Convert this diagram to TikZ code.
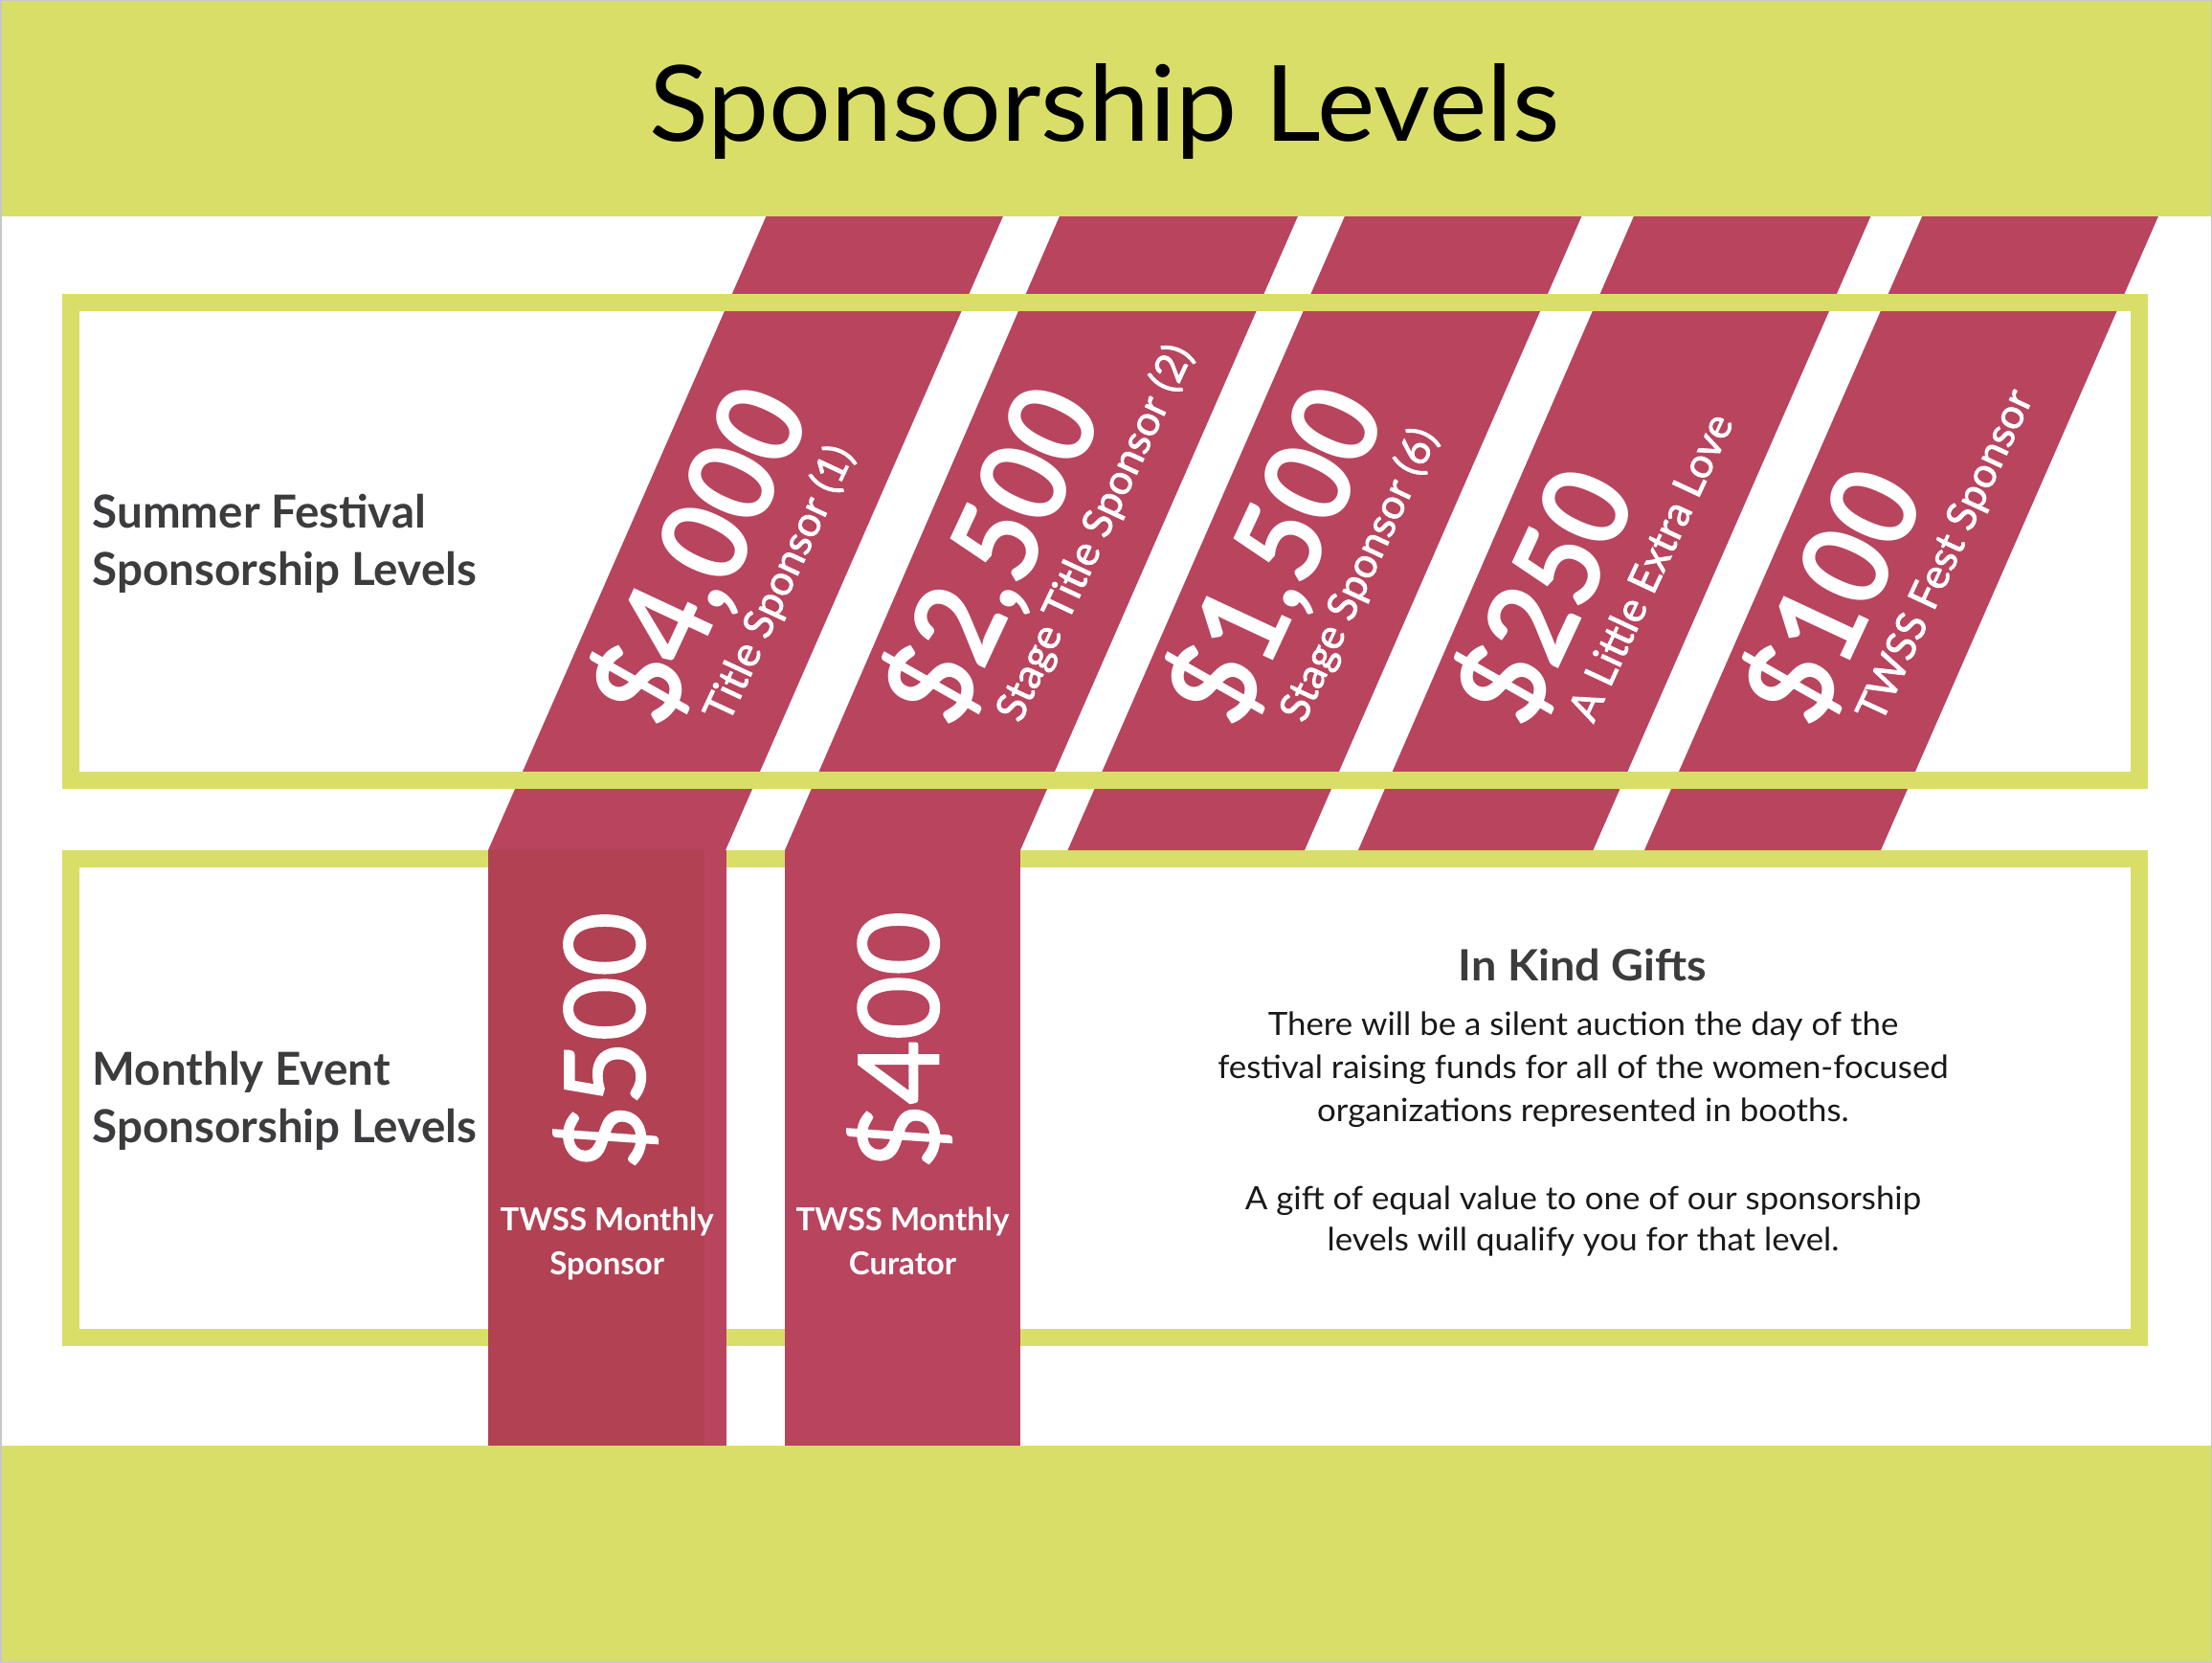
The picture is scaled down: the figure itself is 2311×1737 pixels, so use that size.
\documentclass[tikz,border=0pt]{standalone}
\usepackage{fontspec}
\setmainfont{Lato}
\newfontfamily\medfont{Lato}[FakeBold=1.8]
\newfontfamily\widefont{Lato}[FakeStretch=1.04]
\newfontfamily\pricefont{Lato}[FakeStretch=0.93]
\definecolor{lime}{HTML}{D9DE68}
\definecolor{berry}{HTML}{B8445E}
\definecolor{berrydark}{HTML}{B24153}
\definecolor{ink}{HTML}{3C3B3D}
\begin{document}
\begin{tikzpicture}[x=1pt,y=-1pt,
  frame/.style={draw=lime,line width=18pt},
  band/.style={fill=lime},
  stripe/.style={fill=berry},
  price/.style={font=\pricefont\bfseries\fontsize{126}{126}\selectfont,text=white,inner sep=0pt,anchor=base west,rotate=65},
  plabel/.style={font=\medfont\fontsize{43.5}{43.5}\selectfont,text=white,inner sep=0pt,anchor=base west,rotate=65},
  colprice/.style={font=\medfont\fontsize{116}{116}\selectfont,text=white,inner sep=0pt,anchor=base west,rotate=90},
  collabel/.style={font=\bfseries\fontsize{33}{33}\selectfont,text=white,inner sep=0pt,anchor=base},
  sidelabel/.style={font=\bfseries\fontsize{47.5}{47.5}\selectfont,text=ink,inner sep=0pt,anchor=base west},
  para/.style={font=\widefont\fontsize{33.5}{33.5}\selectfont,text=black!90,inner sep=0pt,anchor=base},
  head/.style={font=\widefont\bfseries\fontsize{45}{45}\selectfont,text=ink,inner sep=0pt,anchor=base}]
\useasboundingbox (0,0) rectangle (2311,1737);
\fill[white] (0,0) rectangle (2311,1737);
% monthly frame (under the columns)
\draw[frame] (74,897) rectangle (2234.7,1397);
% diagonal stripes
\fill[stripe] (800.5,225.7) -- (1048,225.7) -- (758,888) -- (510,888) -- cycle;
\fill[stripe] (1107,225.7) -- (1356,225.7) -- (1066,888) -- (820,888) -- cycle;
\fill[stripe] (1405,225.7) -- (1652.5,225.7) -- (1363,888) -- (1115.5,888) -- cycle;
\fill[stripe] (1707,225.7) -- (1954.5,225.7) -- (1664.4,888) -- (1419,888) -- cycle;
\fill[stripe] (2008.3,225.7) -- (2255,225.7) -- (1965,888) -- (1718,888) -- cycle;
% vertical columns
\fill[berry] (510,888) rectangle (758.5,1511);
\fill[berrydark] (510,888) rectangle (735.7,1511);
\fill[berry] (820,888) rectangle (1066,1511);
% summer frame (over the stripes)
\draw[frame] (74,316) rectangle (2234.7,815);
% bands
\fill[band] (0,0) rectangle (2311,225.7);
\fill[band] (0,1510) rectangle (2311,1737);
\draw[black!22,line width=3pt] (0,0) rectangle (2311,1737);
% title
\node[font=\widefont\fontsize{110}{110}\selectfont,text=black,inner sep=0pt,anchor=base] (title) at (1154,147.3) {Sponsorship Levels};
% side labels
\node[sidelabel] (sf1) at (96.4,551.6) {Summer Festival};
\node[sidelabel] (sf2) at (96.4,611.6) {Sponsorship Levels};
\node[sidelabel] (me1) at (96.4,1133.5) {Monthly Event};
\node[sidelabel] (me2) at (96.4,1193.5) {Sponsorship Levels};
% diagonal prices and labels
\node[price] (p1) at (694,764.5) {\$4,000};
\node[plabel] (l1) at (761,756.5) {Title Sponsor (1)};
\node[price] (p2) at (999,764.5) {\$2,500};
\node[plabel] (l2) at (1066,756.5) {Stage Title Sponsor (2)};
\node[price] (p3) at (1295.4,764.5) {\$1,500};
\node[plabel] (l3) at (1362.4,756.5) {Stage Sponsor (6)};
\node[price] (p4) at (1597.6,764.5) {\$250};
\node[plabel] (l4) at (1664.6,756.5) {A Little Extra Love};
\node[price] (p5) at (1898.4,764.5) {\$100};
\node[plabel] (l5) at (1965.4,756.5) {TWSS Fest Sponsor};
% column prices and labels
\node[colprice] (c1) at (673.2,1222) {\$500};
\node[collabel] (c1a) at (634.2,1285.2) {TWSS Monthly};
\node[collabel] (c1b) at (634.2,1331.2) {Sponsor};
\node[colprice] (c2) at (980.3,1221) {\$400};
\node[collabel] (c2a) at (943,1285.2) {TWSS Monthly};
\node[collabel] (c2b) at (943,1331.2) {Curator};
% in kind gifts
\node[head] (ik) at (1653.5,1024) {In Kind Gifts};
\node[para] (t1) at (1654,1081) {There will be a silent auction the day of the};
\node[para] (t2) at (1654,1126.7) {festival raising funds for all of the women-focused};
\node[para] (t3) at (1654,1171) {organizations represented in booths.};
\node[para] (t4) at (1654,1263.3) {A gift of equal value to one of our sponsorship};
\node[para] (t5) at (1654,1306.7) {levels will qualify you for that level.};
\end{tikzpicture}
\end{document}
